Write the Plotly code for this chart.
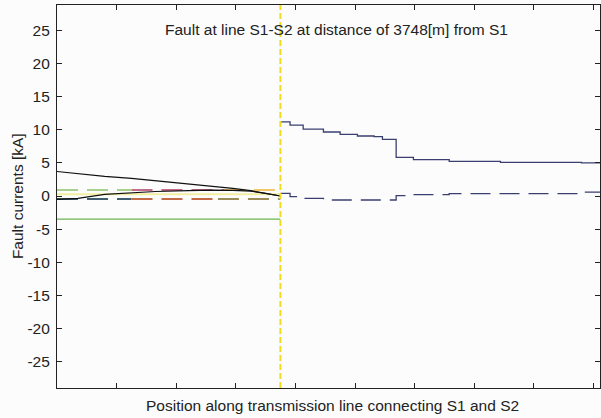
import plotly.graph_objects as go

# ---------------- data ----------------
fault_km = 3.748
x_end = 9.11

# left side (S1 -> fault)
left_x = [0.0, 0.35, 0.8, 1.25, 1.65, 2.2, 2.6, 2.95, 3.25, 3.5, 3.65, 3.748]
black_top = [3.7, 3.35, 2.95, 2.67, 2.3, 1.9, 1.5, 1.15, 0.8, 0.35, 0.1, 0.0]
black_low = [-0.5, -0.35, 0.25, 0.5, 0.68, 0.8, 0.9, 0.85, 0.75, 0.4, 0.15, 0.0]

green_solid_val = -3.5
yellow_solid_val = 0.25

# dashed lines split into sections
section_edges = [0.0, 1.25, 2.8, 3.748]
dash_hi_val = 0.9
dash_hi_colors = ["#a9d18e", "#c46a8a", "#f2c766"]
dash_lo_edges = [0.0, 1.25, 2.7, 3.748]
dash_lo_val = -0.45
dash_lo_colors = ["#3f5f6f", "#c46a45", "#9c8c55"]

# right side (fault -> S2), step functions
right_steps = [3.748, 3.91, 4.13, 4.47, 4.75, 5.04, 5.32, 5.46, 5.69, 5.98, 6.58, 7.44, 8.8, 9.11]
navy_solid = [11.2, 10.7, 10.1, 9.67, 9.3, 9.06, 8.96, 8.56, 5.84, 5.49, 5.24, 5.09, 5.0, 5.0]
navy_dash = [0.4, -0.1, -0.35, -0.6, -0.6, -0.6, -0.6, -0.6, 0.05, 0.2, 0.35, 0.35, 0.6, 0.6]

y_ticks = [-25, -20, -15, -10, -5, 0, 5, 10, 15, 20, 25]
y_tick_text = ["-25", "-20", "-15", "-10", "-5", "0", "5", "10", "15", "20", "25"]
x_ticks = [1, 2, 3, 4, 5, 6, 7, 8, 9]

title_text = "Fault at line S1-S2 at distance of 3748[m] from S1"
x_title = "Position along transmission line connecting S1 and S2"
y_title = "Fault currents [kA]"

# ---------------- figure ----------------
FONT = "Liberation Sans, Arial"
FS = 15.5
fig = go.Figure()
DASH = "21px,9px"

fig.add_trace(go.Scatter(x=[0, fault_km], y=[green_solid_val] * 2, mode="lines",
                         line=dict(color="#6db34f", width=1.3)))
fig.add_trace(go.Scatter(x=[0, fault_km], y=[yellow_solid_val] * 2, mode="lines",
                         line=dict(color="#f3eea0", width=2)))
for i, c in enumerate(dash_hi_colors):
    fig.add_trace(go.Scatter(x=[section_edges[i], section_edges[i + 1]], y=[dash_hi_val] * 2,
                             mode="lines", line=dict(color=c, width=2, dash=DASH)))
for i, c in enumerate(dash_lo_colors):
    fig.add_trace(go.Scatter(x=[dash_lo_edges[i], dash_lo_edges[i + 1]], y=[dash_lo_val] * 2,
                             mode="lines", line=dict(color=c, width=2, dash=DASH)))
fig.add_trace(go.Scatter(x=left_x, y=black_low, mode="lines",
                         line=dict(color="#111111", width=1.2)))
fig.add_trace(go.Scatter(x=left_x, y=black_top, mode="lines",
                         line=dict(color="#111111", width=1.2)))

fig.add_trace(go.Scatter(x=right_steps, y=navy_solid, mode="lines", line_shape="hv",
                         line=dict(color="#3b3f70", width=1.3)))
fig.add_trace(go.Scatter(x=right_steps, y=navy_dash, mode="lines", line_shape="hv",
                         line=dict(color="#3b3f70", width=1.3, dash="20px,9px")))

fig.add_shape(type="line", x0=fault_km, x1=fault_km, y0=0, y1=1, yref="paper",
              line=dict(color="#f0dc1e", width=2, dash="6px,3px"))

fig.add_annotation(text=title_text, x=0.514, y=25.2, xref="paper", yref="y",
                   showarrow=False, font=dict(family=FONT, size=FS, color="#222"))
fig.add_annotation(text=x_title, x=0.507, y=-0.045, xref="paper", yref="paper",
                   showarrow=False, yanchor="middle",
                   font=dict(family=FONT, size=FS, color="#222"))
fig.add_annotation(text=y_title, x=-0.073, y=0.502, xref="paper", yref="paper",
                   showarrow=False, textangle=-90, xanchor="center", yanchor="middle",
                   font=dict(family=FONT, size=FS, color="#222"))

axis_common = dict(showline=True, linecolor="#222", linewidth=1.2, mirror="ticks",
                   ticks="inside", ticklen=5, tickcolor="#222", showgrid=False,
                   zeroline=False, automargin=False)

fig.update_layout(
    width=601, height=418,
    margin=dict(l=57, r=1, t=5, b=30),
    paper_bgcolor="#fcfcfc", plot_bgcolor="#fcfcfc",
    showlegend=False,
    font=dict(family=FONT, size=FS, color="#222"),
    xaxis=dict(range=[0, x_end], tickvals=x_ticks, showticklabels=False, **axis_common),
    yaxis=dict(range=[-29.0, 28.85], tickvals=y_ticks, ticktext=y_tick_text,
               ticklabelstandoff=3, **axis_common),
)

fig.write_html("out.html", config={"displayModeBar": False},
               post_script="document.body.style.margin='0px';document.body.style.overflow='hidden';")
